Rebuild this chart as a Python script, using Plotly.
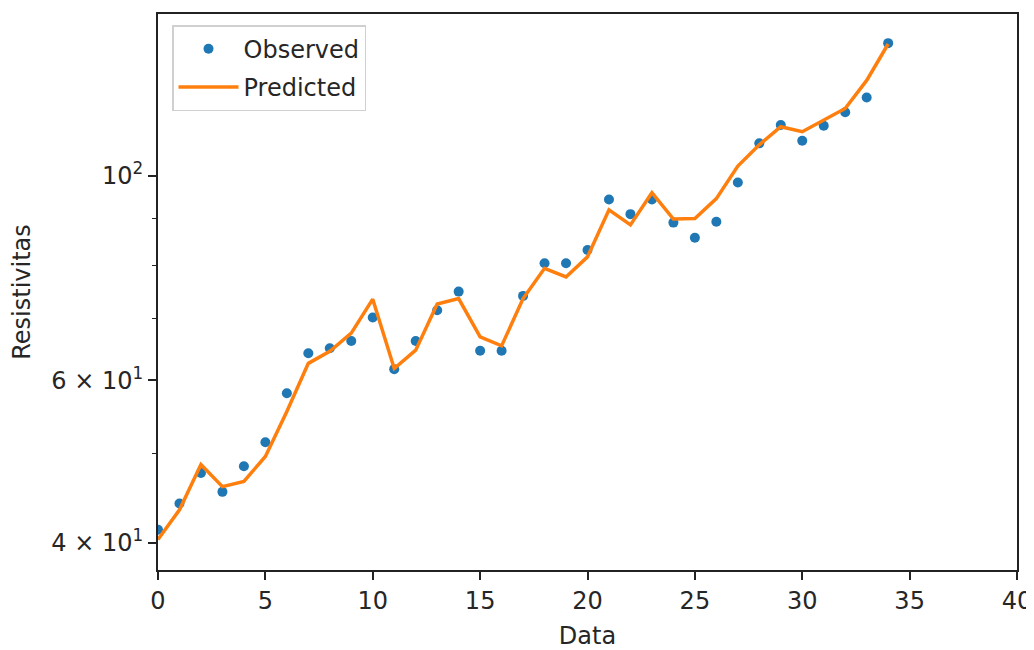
import plotly.graph_objects as go

data_index = list(range(35))
observed = [41.3, 44.1, 47.6, 45.4, 48.4, 51.4, 58.1, 64.2, 65.0, 66.2, 70.2, 61.7,
            66.2, 71.5, 74.9, 64.6, 64.6, 74.1, 80.4, 80.4, 83.1, 94.3, 90.9, 94.3,
            89.0, 85.7, 89.2, 98.4, 108.5, 113.6, 109.2, 113.4, 117.3, 121.7, 139.4]
predicted = [40.3, 43.4, 48.6, 46.0, 46.6, 49.6, 55.5, 62.6, 64.5, 67.5, 73.5, 61.8,
             64.7, 72.6, 73.6, 66.9, 65.4, 73.6, 79.4, 77.7, 81.7, 91.9, 88.5, 95.9,
             89.8, 89.9, 94.5, 102.5, 108.1, 113.1, 111.7, 115.0, 118.4, 127.0, 139.1]

x_ticks = [0, 5, 10, 15, 20, 25, 30, 35, 40]
y_major = [40, 60, 100]
y_major_text = ["4 × 10<sup>1</sup>", "6 × 10<sup>1</sup>", "10<sup>2</sup>"]
y_minor = [50, 70, 80, 90]

BLUE = "#1f77b4"
ORANGE = "#ff7f0e"
TXT = "#262626"

fig = go.Figure()
fig.add_trace(go.Scatter(
    x=data_index, y=observed, mode="markers", name="Observed", legendgroup="obs",
    marker=dict(color=BLUE, size=10, line=dict(width=0)),
))
fig.add_trace(go.Scatter(
    x=data_index, y=predicted, mode="lines", name="Predicted", legendgroup="pred",
    line=dict(color=ORANGE, width=3.5),
))

# the page body adds an 8px offset, so the figure is 8px smaller in each direction
fig.update_layout(
    width=1026, height=642,
    margin=dict(l=150, r=17, t=6, b=80, autoexpand=False),
    paper_bgcolor="white", plot_bgcolor="white",
    font=dict(family="DejaVu Sans", size=24, color=TXT),
    showlegend=True,
    legend=dict(
        x=0.0163, y=0.98, xanchor="left", yanchor="top",
        bgcolor="rgba(255,255,255,0.8)", bordercolor="#d0d0d0", borderwidth=1.5,
        font=dict(size=24, color=TXT),
        itemwidth=60, traceorder="grouped", tracegroupgap=4,
    ),
)

fig.update_xaxes(
    range=[0, 40], tickmode="array", tickvals=x_ticks,
    ticks="outside", ticklen=8, tickwidth=1.5, tickcolor="#222",
    showline=True, linecolor="#222", linewidth=2, mirror=True,
    showgrid=False, zeroline=False, automargin=False,
    title=dict(text="Data", font=dict(size=24, color=TXT)),
    tickfont=dict(size=24, color=TXT),
)
fig.update_yaxes(
    type="log", range=[1.5722, 2.1759],
    tickmode="array", tickvals=y_major, ticktext=y_major_text,
    ticks="outside", ticklen=8, tickwidth=1.5, tickcolor="#222",
    minor=dict(tickmode="array", tickvals=y_minor, ticks="outside", ticklen=4,
               tickwidth=1.2, tickcolor="#222", showgrid=False),
    showline=True, linecolor="#222", linewidth=2, mirror=True,
    showgrid=False, zeroline=False, automargin=False,
    title=dict(text="Resistivitas", font=dict(size=24, color=TXT)),
    tickfont=dict(size=24, color=TXT),
)

fig.write_html("out.html")
